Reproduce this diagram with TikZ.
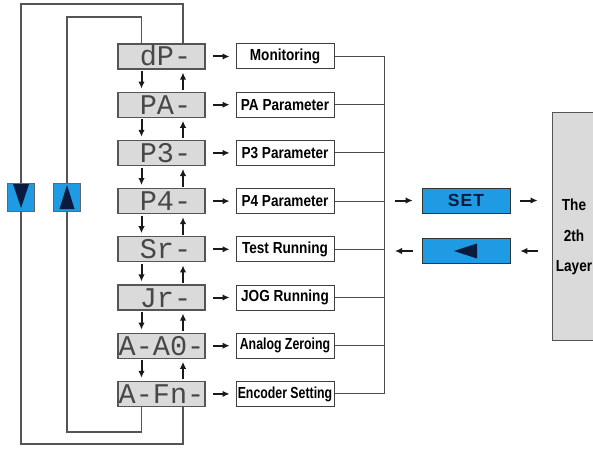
\documentclass[tikz,border=0pt]{standalone}
\usepackage{fontspec}
\setmainfont{Liberation Sans}
\newfontfamily\segfont{Liberation Mono}
\newfontfamily\lblfont{Liberation Sans}[FakeStretch=0.85]
\newfontfamily\narrowfont{Liberation Sans}[FakeStretch=0.77]
\usetikzlibrary{arrows.meta}
\definecolor{keyblue}{HTML}{1E9BE3}
\definecolor{navy}{HTML}{0B1B40}
\definecolor{panelgray}{HTML}{DADADA}
\definecolor{linegray}{HTML}{555555}

\tikzset{
  disp/.style={draw=linegray, line width=1.2pt, fill=panelgray, minimum width=87pt, minimum height=25pt,
    inner sep=0pt, text height=19pt, text depth=0pt, text=black!72, font=\segfont\fontsize{28.5}{29}\selectfont},
  lbl/.style={draw=black!75, line width=1pt, fill=white, minimum width=98pt, minimum height=25pt,
    inner sep=0pt, font=\lblfont\fontsize{16}{17}\selectfont\bfseries},
  key/.style={draw=black!80, line width=0.6pt, fill=keyblue, minimum width=88pt, minimum height=25pt, inner sep=0pt},
  sidekey/.style={draw=black!60, line width=0.5pt, fill=keyblue, minimum width=27pt, minimum height=28pt, inner sep=0pt},
  arr/.style={-{Latex[length=7pt,width=6.5pt]}, line width=2pt, black!90},
  wire/.style={line width=1pt, black!70},
  loopline/.style={line width=1.1pt, linegray},
}

\begin{document}
\begin{tikzpicture}[x=1pt,y=-1pt]
    \useasboundingbox (0,0) rectangle (593,449);

    % display panel and menu entries
    \foreach \i/\disp/\lbl in {1/\hspace*{8pt}dP-/Monitoring, 2/\hspace*{8pt}PA-/PA Parameter, 3/\hspace*{8pt}P3-/P3 Parameter,
        4/\hspace*{8pt}P4-/P4 Parameter, 5/\hspace*{8pt}Sr-/Test Running, 6/\hspace*{8pt}Jr-/JOG Running,
        7/A-A0-/{\narrowfont Analog Zeroing}, 8/A-Fn-/{\narrowfont Encoder Setting}} {
        \node[disp] (d\i) at (161.5,{56.5+48.2*(\i-1)}) {\disp};
        \node[lbl] (l\i) at (285,{56.5+48.2*(\i-1)}) {\lbl};
        \draw[arr,shorten <=7pt,shorten >=6pt] (d\i.east) -- (l\i.west);
    }
    \foreach \i in {1,...,7} {
        \pgfmathtruncatemacro{\j}{\i+1}
        \draw[arr,shorten <=1.5pt,shorten >=3pt] ([xshift=-20pt]d\i.south) -- ([xshift=-20pt]d\j.north);
        \draw[arr,shorten <=1.5pt,shorten >=3pt] ([xshift=21.5pt]d\j.north) -- ([xshift=21.5pt]d\i.south);
    }

    % the two loops round the panel
    \coordinate (otop) at (21,4);
    \coordinate (obot) at (21,444);
    \coordinate (itop) at (67,17);
    \coordinate (ibot) at (67,432);
    \draw[loopline] ([xshift=21.5pt]d1.north) |- (otop) -- (obot) -| ([xshift=21.5pt]d8.south);
    \draw[loopline] ([xshift=-20pt]d1.north) |- (itop) -- (ibot) -| ([xshift=-20pt]d8.south);
    \node[sidekey, path picture={\fill[navy] ([xshift=-8pt,yshift=13pt]path picture bounding box.center)
        -- ++(16pt,0pt) -- ++(-8pt,-24pt) -- cycle;}] (dnkey) at (21,197) {};
    \node[sidekey, path picture={\fill[navy] ([xshift=-7.5pt,yshift=-12pt]path picture bounding box.center)
        -- ++(15pt,0pt) -- ++(-7.5pt,24pt) -- cycle;}] (upkey) at (67,197) {};

    % bus to the keys
    \coordinate (bus) at (384,0);
    \foreach \i in {1,...,8} {
        \draw[wire] (l\i.east) -- (l\i.east -| bus);
    }
    \draw[wire] (l1.east -| bus) -- (l8.east -| bus);

    \node[key, font=\fontsize{17.5}{18}\selectfont\bfseries, text=navy] (set) at (466,200.5) {S\kern1pt E\kern1pt T};
    \node[key, path picture={\fill[navy] ([xshift=-12pt]path picture bounding box.center)
        -- ++(23pt,7.5pt) -- ++(0pt,-15pt) -- cycle;}] (back) at (466,251) {};

    \node[draw=linegray, line width=1pt, fill=panelgray, minimum width=88pt, minimum height=227pt] (layer) at (596,226.5) {};
    \node[align=center, font=\lblfont\fontsize{16}{30.5}\selectfont\bfseries] (layertxt) at (574,237) {The\\2th\\Layer};

    \draw[arr,shorten <=11pt,shorten >=9pt] (set.west -| bus) -- (set.west);
    \draw[arr,shorten <=10pt,shorten >=14pt] (set.east) -- (set.east -| layer.west);
    \draw[arr,shorten <=14pt,shorten >=10pt] (back.east -| layer.west) -- (back.east);
    \draw[arr,shorten <=9pt,shorten >=11pt] (back.west) -- (back.west -| bus);
\end{tikzpicture}
\end{document}
